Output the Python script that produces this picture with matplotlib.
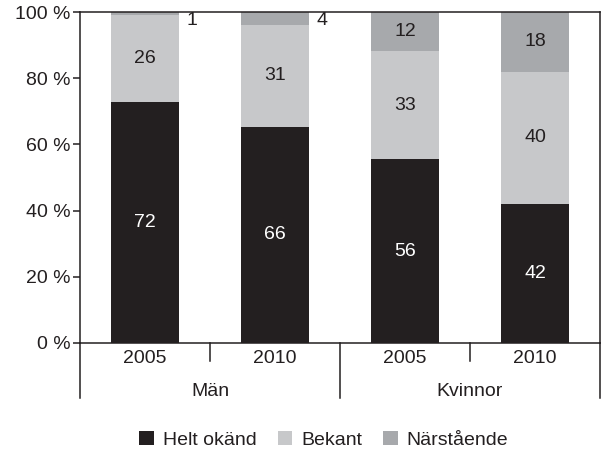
import numpy as np
import matplotlib
matplotlib.use('Agg')
import matplotlib.pyplot as plt
from matplotlib.patches import Patch

plt.rcParams['font.family'] = ['Liberation Sans', 'DejaVu Sans']

years = ['2005', '2010', '2005', '2010']
groups = ['Män', 'Kvinnor']
series = ['Helt okänd', 'Bekant', 'Närstående']
helt_okand = [72, 66, 56, 42]
bekant = [26, 31, 33, 40]
narstaende = [1, 4, 12, 18]

colors = ['#231f20', '#c7c8ca', '#a7a9ac']
dark = '#231f20'
fs = 14

data = np.array([helt_okand, bekant, narstaende], dtype=float)
# bars are drawn as shares of 100 %
shares = data / data.sum(axis=0) * 100

fig = plt.figure(figsize=(6.03, 4.5), dpi=100)
ax = fig.add_axes([0.1327, 0.2378, 0.8623, 0.7355])

x = np.arange(len(years))
bottom = np.zeros(len(years))
for i, name in enumerate(series):
    ax.bar(x, shares[i], 0.52, bottom=bottom, color=colors[i], label=name)
    for j in range(len(years)):
        val = int(data[i, j])
        if val < 5:
            ax.text(x[j] + 0.32, 97.3, str(val), ha='left', va='center',
                    fontsize=fs, color=dark)
        else:
            txt_color = 'white' if i == 0 else dark
            ax.text(x[j], bottom[j] + shares[i, j] / 2, str(val), ha='center',
                    va='center', fontsize=fs, color=txt_color)
    bottom += shares[i]

ax.set_xlim(-0.5, len(years) - 0.5)
ax.set_ylim(0, 100)
ax.set_yticks(range(0, 101, 20))
ax.set_yticklabels([f'{v} %' for v in range(0, 101, 20)])
ax.tick_params(axis='y', length=5, width=1.1, color=dark, labelsize=fs,
               labelcolor=dark, pad=2)
ax.set_xticks(x)
ax.set_xticklabels(years)
ax.tick_params(axis='x', length=0, labelsize=fs, labelcolor=dark, pad=5)

for s in ax.spines.values():
    s.set_color(dark)
    s.set_linewidth(1.1)

# category dividers below the axis
tr = ax.get_xaxis_transform()
for xd in [0.5, 2.5]:
    ax.plot([xd, xd], [0, -0.055], transform=tr, color=dark, lw=1.1, clip_on=False)
for xd in [-0.5, 1.5, 3.5]:
    ax.plot([xd, xd], [0, -0.166], transform=tr, color=dark, lw=1.1, clip_on=False)
for k, g in enumerate(groups):
    ax.text(2 * k + 0.5, -0.148, g, transform=tr, ha='center', va='center',
            fontsize=fs, color=dark)

handles = [Patch(facecolor=c, edgecolor='none') for c in colors]
fig.legend(handles, series, loc='center', bbox_to_anchor=(0.537, 0.022),
           ncol=3, frameon=False, fontsize=fs, handlelength=0.75,
           handleheight=0.75, handletextpad=0.45, columnspacing=1.1,
           labelcolor=dark)

fig.savefig('out.png', dpi=100)
